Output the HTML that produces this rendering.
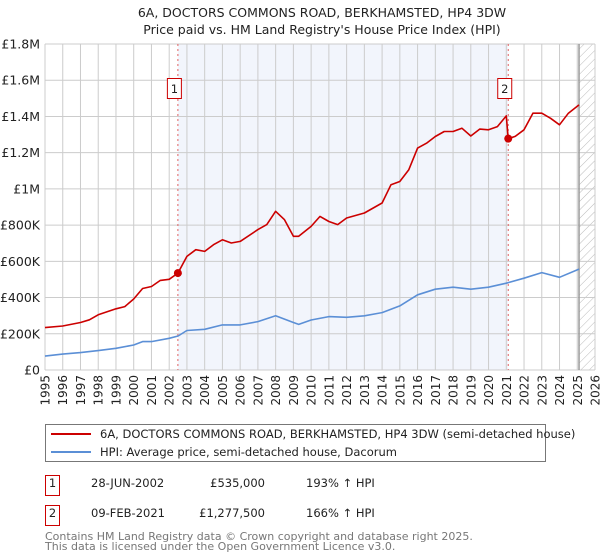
<!DOCTYPE html>
<html><head><meta charset="utf-8"><style>
body{margin:0;background:#fff;}
svg{display:block;font-family:"DejaVu Sans","Liberation Sans",sans-serif;}
</style></head><body>
<svg id="c" width="600" height="560" viewBox="0 0 600 560">
<text x="322" y="17" text-anchor="middle" font-size="12.5" fill="#222">6A, DOCTORS COMMONS ROAD, BERKHAMSTED, HP4 3DW</text>
<text x="322" y="34" text-anchor="middle" font-size="12.5" fill="#222">Price paid vs. HM Land Registry's House Price Index (HPI)</text>
<g id="plot"></g>
<g>
<rect x="45.5" y="424.5" width="500" height="37" fill="#fff" stroke="#777"/>
<line x1="51" y1="434" x2="91" y2="434" stroke="#cc0000" stroke-width="2"/>
<text x="100" y="438" font-size="11.5" fill="#222">6A, DOCTORS COMMONS ROAD, BERKHAMSTED, HP4 3DW (semi-detached house)</text>
<line x1="51" y1="452" x2="91" y2="452" stroke="#5b8fd6" stroke-width="2"/>
<text x="100" y="456" font-size="11.5" fill="#222">HPI: Average price, semi-detached house, Dacorum</text>
</g>
<g font-size="11.5" fill="#222">
<rect x="45.5" y="475.5" width="14" height="20" fill="#fff" stroke="#cc0000"/>
<text x="52.5" y="487" text-anchor="middle">1</text>
<text x="91" y="487">28-JUN-2002</text>
<text x="265" y="487" text-anchor="end">£535,000</text>
<text x="306" y="487">193% ↑ HPI</text>
<rect x="45.5" y="505.5" width="14" height="20" fill="#fff" stroke="#cc0000"/>
<text x="52.5" y="517" text-anchor="middle">2</text>
<text x="91" y="517">09-FEB-2021</text>
<text x="265" y="517" text-anchor="end">£1,277,500</text>
<text x="306" y="517">166% ↑ HPI</text>
</g>
<text x="45" y="540" font-size="11" fill="#777">Contains HM Land Registry data © Crown copyright and database right 2025.</text>
<text x="45" y="550" font-size="11" fill="#777">This data is licensed under the Open Government Licence v3.0.</text>
</svg>
<script>
const redYears=[1995,1996,1997,1997.5,1998,1999,1999.5,2000,2000.5,2001,2001.5,2002,2002.49,2003,2003.5,2004,2004.5,2005,2005.5,2006,2007,2007.5,2008,2008.5,2009,2009.3,2010,2010.5,2011,2011.5,2012,2013,2014,2014.5,2015,2015.5,2016,2016.5,2017,2017.5,2018,2018.5,2019,2019.5,2020,2020.5,2021.0,2021.11,2021.5,2022,2022.5,2023,2023.5,2024,2024.5,2025.1];
const redValues=[234,243,262,277,305,338,350,392,450,461,495,501,535,627,664,655,692,719,701,710,775,803,876,830,738,738,793,848,820,803,839,867,922,1023,1041,1105,1225,1252,1289,1317,1317,1335,1292,1330,1326,1344,1403,1277,1290,1326,1418,1418,1390,1354,1418,1464];
const blueYears=[1995,1996,1997,1998,1999,2000,2000.5,2001,2002,2002.5,2003,2004,2005,2006,2007,2008,2009,2009.3,2010,2011,2012,2013,2014,2015,2016,2017,2018,2019,2020,2021,2022,2023,2024,2025.1];
const blueValues=[77,88,96,107,120,138,157,157,175,188,218,225,249,249,267,299,262,252,276,295,291,299,317,354,415,446,457,446,457,479,507,538,512,557];
const yTickValues=[0,200,400,600,800,1000,1200,1400,1600,1800];
const yTickLabels=["£0","£200K","£400K","£600K","£800K","£1M","£1.2M","£1.4M","£1.6M","£1.8M"];
const xTickYears=[1995,1996,1997,1998,1999,2000,2001,2002,2003,2004,2005,2006,2007,2008,2009,2010,2011,2012,2013,2014,2015,2016,2017,2018,2019,2020,2021,2022,2023,2024,2025,2026];
const saleYears=[2002.49,2021.11];
const saleValues=[535,1277.5];
const saleLabels=["1","2"];

const L=45,R=595,T=44,B=370;
const X=y=>L+(y-1995)/(2026-1995)*(R-L);
const Y=v=>B-v/1800*(B-T);
const NS="http://www.w3.org/2000/svg";
const g=document.getElementById('plot');
function mk(t,a,p){const e=document.createElementNS(NS,t);for(const k in a)e.setAttribute(k,a[k]);(p||g).appendChild(e);return e;}

const defs=mk('defs',{});
const pat=mk('pattern',{id:'hatch',width:6,height:6,patternUnits:'userSpaceOnUse',patternTransform:'rotate(45)'},defs);
mk('line',{x1:0,y1:0,x2:0,y2:6,stroke:'#bbb','stroke-width':1},pat);

let sh=mk('rect',{x:X(saleYears[0]),y:T,width:X(saleYears[1])-X(saleYears[0]),height:B-T,fill:'#eef2fb',opacity:0.75});


let ht=mk('rect',{x:X(2025.1),y:T,width:R-X(2025.1),height:B-T,fill:'url(#hatch)'});



xTickYears.forEach(yr=>{
 const l=mk('line',{x1:X(yr),y1:T,x2:X(yr),y2:B,stroke:'#ccc','stroke-width':1});
 
 
 const t=mk('text',{x:0,y:0,'font-size':12,fill:'#222','text-anchor':'end',transform:`translate(${X(yr)+4.5},${B+5}) rotate(-90)`});
 t.textContent=yr;
 
 
});
yTickValues.forEach((v,i)=>{
 const l=mk('line',{x1:L,y1:Y(v),x2:R,y2:Y(v),stroke:'#ccc','stroke-width':1});
 
 
 const t=mk('text',{x:L-5,y:Y(v)+4.5,'font-size':12.5,fill:'#222','text-anchor':'end'});
 t.textContent=yTickLabels[i];
 
 
});
let bl=mk('line',{x1:X(2025.1),y1:T,x2:X(2025.1),y2:B,stroke:'#999','stroke-width':1.5});



saleYears.forEach((yr,i)=>{
 const l=mk('line',{x1:X(yr),y1:T,x2:X(yr),y2:B,stroke:'#e06060','stroke-width':1,'stroke-dasharray':'2,3'});
 
 
 const r=mk('rect',{x:X(yr)-10.5,y:78.5,width:14,height:20,fill:'#fff',stroke:'#cc0000'});
 
 
 const t=mk('text',{x:X(yr)-3.5,y:93,'font-size':11.5,fill:'#222','text-anchor':'middle'});
 t.textContent=saleLabels[i];
 
 
});

function line(xs,vs,col,name){
 const p=mk('path',{d:xs.map((x,i)=>(i?'L':'M')+X(x).toFixed(1)+','+Y(vs[i]).toFixed(1)).join(''),fill:'none',stroke:col,'stroke-width':1.6,'stroke-linejoin':'round'});
 
 
}
line(blueYears,blueValues,'#5b8fd6','hpi-line');
line(redYears,redValues,'#cc0000','property-price-line');
saleYears.forEach((yr,i)=>{
 const c=mk('circle',{cx:X(yr),cy:Y(saleValues[i]),r:4,fill:'#cc0000'});
 
 
});
</script>
</body></html>
